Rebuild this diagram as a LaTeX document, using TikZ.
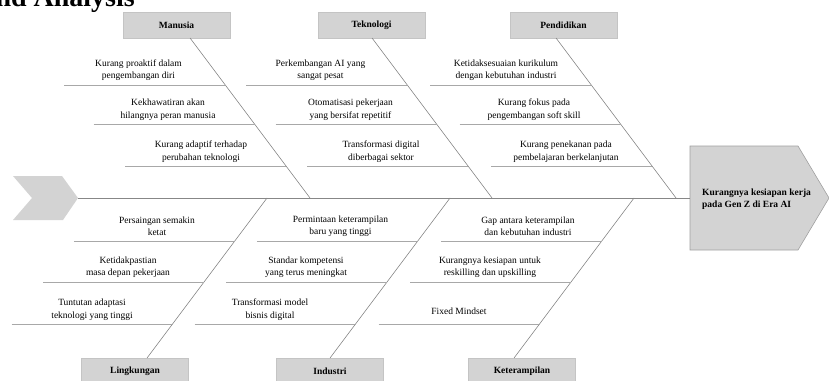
\documentclass[tikz,border=0pt]{standalone}
\usepackage{fontspec}
\setmainfont{Liberation Serif}
\definecolor{boxgray}{HTML}{D3D3D3}
\definecolor{bordergray}{HTML}{C4C4C4}
\definecolor{headborder}{HTML}{A0A0A0}
\definecolor{linegray}{HTML}{878787}
\definecolor{subgray}{HTML}{A8A8A8}
\begin{document}
\begin{tikzpicture}[x=1pt,y=-1pt,
  catbox/.style={fill=boxgray,draw=bordergray,line width=0.5pt,minimum width=107pt,minimum height=26pt,inner sep=0pt,font=\bfseries\fontsize{9.5}{12}\selectfont},
  cause/.style={align=center,inner sep=0pt,font=\fontsize{9.5}{12.5}\selectfont},
  bone/.style={draw=linegray,line width=0.6pt},
  subline/.style={draw=subgray,line width=0.8pt}]
\useasboundingbox (0,0) rectangle (829,380);
\clip (0,0) rectangle (829,380);

% title (cut off at top)
\node[anchor=base east,inner sep=0pt,font=\bfseries\fontsize{28}{30}\selectfont] (title) at (135,6) {nd Analysis};

% tail and head
\fill[boxgray] (13,176) -- (62,176) -- (78,198) -- (63,220) -- (13,220) -- (32,198) -- cycle;
\coordinate (tail) at (78,198);
\filldraw[fill=boxgray,draw=headborder,line width=0.6pt] (690,146) -- (798,146) -- (829,198) -- (798,250) -- (690,250) -- cycle;
\coordinate (headW) at (690,198);
\node[anchor=north west,align=left,inner sep=0pt,font=\bfseries\fontsize{9.5}{12}\selectfont] (headtext) at (702,188.5) {Kurangnya kesiapan kerja\\pada Gen Z di Era AI};

% spine
\draw[bone] (tail) -- (headW);

% category boxes
\node[catbox] (man) at (176.5,25) {Manusia};
\node[catbox] (tek) at (371.5,25) {Teknologi};
\node[catbox] (pen) at (563.5,25) {Pendidikan};
\node[catbox] (lin) at (135,371) {Lingkungan};
\node[catbox] (ind) at (330,371) {Industri};
\node[catbox] (ket) at (522,371) {Keterampilan};

% bone coordinates
\coordinate (mS) at (190,38);  \coordinate (mJ) at (310,198);
\coordinate (tS) at (372,38);  \coordinate (tJ) at (492,198);
\coordinate (pS) at (556,38);  \coordinate (pJ) at (676,198);
\coordinate (lJ) at (267,198); \coordinate (lE) at (147,358);
\coordinate (iJ) at (450,198); \coordinate (iE) at (330,358);
\coordinate (kJ) at (634,198); \coordinate (kE) at (514,358);
\draw[bone] (mS) -- (mJ);
\draw[bone] (tS) -- (tJ);
\draw[bone] (pS) -- (pJ);
\draw[bone] (lJ) -- (lE);
\draw[bone] (iJ) -- (iE);
\draw[bone] (kJ) -- (kE);

% Manusia causes
\coordinate (m1L) at (64.25,85);  \coordinate (m1R) at (225.25,85);
\coordinate (m2L) at (93.5,124);  \coordinate (m2R) at (254.5,124);
\coordinate (m3L) at (125,166);   \coordinate (m3R) at (286,166);
\draw[subline] (m1L) -- (m1R);
\draw[subline] (m2L) -- (m2R);
\draw[subline] (m3L) -- (m3R);
\node[cause] (m1) at (138.5,70) {Kurang proaktif dalam\\pengembangan diri};
\node[cause] (m2) at (168,109.5) {Kekhawatiran akan\\hilangnya peran manusia};
\node[cause] (m3) at (201,151.5) {Kurang adaptif terhadap\\perubahan teknologi};

% Teknologi causes
\coordinate (t1L) at (246.25,85); \coordinate (t1R) at (407.25,85);
\coordinate (t2L) at (275.5,124); \coordinate (t2R) at (436.5,124);
\coordinate (t3L) at (307,166);   \coordinate (t3R) at (468,166);
\draw[subline] (t1L) -- (t1R);
\draw[subline] (t2L) -- (t2R);
\draw[subline] (t3L) -- (t3R);
\node[cause] (t1) at (320.5,70) {Perkembangan AI yang\\sangat pesat};
\node[cause] (t2) at (350.5,109.5) {Otomatisasi pekerjaan\\yang bersifat repetitif};
\node[cause] (t3) at (381,151.5) {Transformasi digital\\diberbagai sektor};

% Pendidikan causes
\coordinate (p1L) at (430.25,85); \coordinate (p1R) at (591.25,85);
\coordinate (p2L) at (459.5,124); \coordinate (p2R) at (620.5,124);
\coordinate (p3L) at (491,166);   \coordinate (p3R) at (652,166);
\draw[subline] (p1L) -- (p1R);
\draw[subline] (p2L) -- (p2R);
\draw[subline] (p3L) -- (p3R);
\node[cause] (p1) at (506,70) {Ketidaksesuaian kurikulum\\dengan kebutuhan industri};
\node[cause] (p2) at (534,109.5) {Kurang fokus pada\\pengembangan soft skill};
\node[cause] (p3) at (566,151.5) {Kurang penekanan pada\\pembelajaran berkelanjutan};

% Lingkungan causes
\coordinate (l1L) at (73.75,241); \coordinate (l1R) at (234.75,241);
\coordinate (l2L) at (43,282);    \coordinate (l2R) at (204,282);
\coordinate (l3L) at (11.5,324);  \coordinate (l3R) at (172.5,324);
\draw[subline] (l1L) -- (l1R);
\draw[subline] (l2L) -- (l2R);
\draw[subline] (l3L) -- (l3R);
\node[cause] (l1) at (157,226) {Persaingan semakin\\ketat};
\node[cause] (l2) at (128,267) {Ketidakpastian\\masa depan pekerjaan};
\node[cause] (l3) at (92,309.5) {Tuntutan adaptasi\\teknologi yang tinggi};

% Industri causes
\coordinate (i1L) at (256.75,241); \coordinate (i1R) at (417.75,241);
\coordinate (i2L) at (226,282);    \coordinate (i2R) at (387,282);
\coordinate (i3L) at (194.5,324);  \coordinate (i3R) at (355.5,324);
\draw[subline] (i1L) -- (i1R);
\draw[subline] (i2L) -- (i2R);
\draw[subline] (i3L) -- (i3R);
\node[cause] (i1) at (340.5,226) {Permintaan keterampilan\\baru yang tinggi};
\node[cause] (i2) at (306,267) {Standar kompetensi\\yang terus meningkat};
\node[cause] (i3) at (270,309.5) {Transformasi model\\bisnis digital};

% Keterampilan causes
\coordinate (k1L) at (440.75,241); \coordinate (k1R) at (601.75,241);
\coordinate (k2L) at (410,282);    \coordinate (k2R) at (571,282);
\coordinate (k3L) at (378.5,324);  \coordinate (k3R) at (539.5,324);
\draw[subline] (k1L) -- (k1R);
\draw[subline] (k2L) -- (k2R);
\draw[subline] (k3L) -- (k3R);
\node[cause] (k1) at (528,226) {Gap antara keterampilan\\dan kebutuhan industri};
\node[cause] (k2) at (490,267) {Kurangnya kesiapan untuk\\reskilling dan upskilling};
\node[cause] (k3) at (459,311) {Fixed Mindset};
\end{tikzpicture}
\end{document}
